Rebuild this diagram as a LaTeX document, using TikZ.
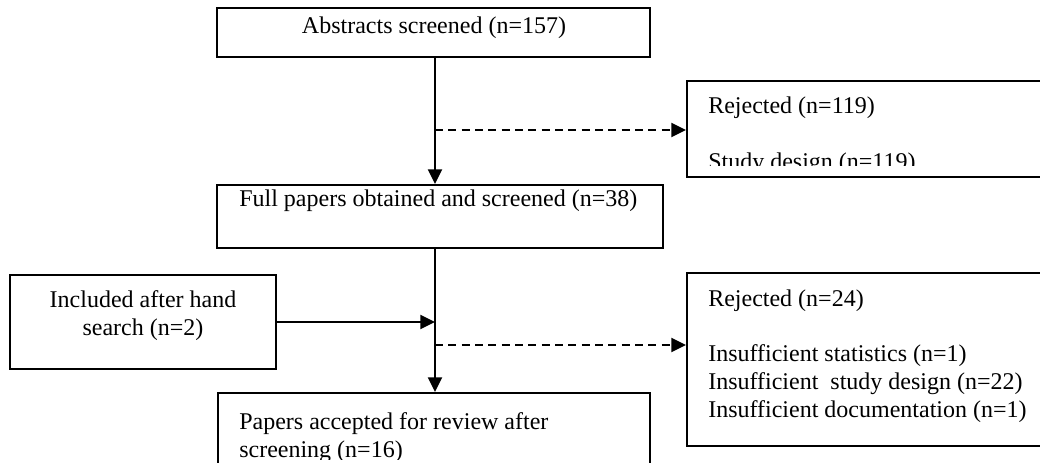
\documentclass[tikz,border=0pt]{standalone}
\usepackage{fontspec}
\setmainfont{Liberation Serif}
\usetikzlibrary{fit, arrows.meta}

\begin{document}
\begin{tikzpicture}
      [
        x=0.75pt, y=-0.75pt,
        box/.style={draw, line width=1.5pt, inner sep=0pt},
        txt/.style={font=\fontsize{18}{21}\selectfont, inner sep=0pt, anchor=base west},
        flow/.style={line width=1.5pt, -{Triangle[length=11pt, width=10.5pt]}},
        reject/.style={flow, dash pattern=on 6pt off 4pt}
      ]
      \clip (0,0) rectangle (1040,463);
      % boxes
      \node [box, fit={(217,8) (650,57)}] (abs) {};
      \node [box, fit={(217,185) (663,248)}] (full) {};
      \node [box, fit={(687,81) (1060,177)}] (rej1) {};
      \node [box, fit={(10,275) (276,369)}] (hand) {};
      \node [box, fit={(218,393) (650,490)}] (acc) {};
      \node [box, fit={(687,273) (1060,446)}] (rej2) {};
      % texts
      \node [txt, anchor=base] (tabs) at (434,34) {Abstracts screened (n=157)};
      \node [txt] (tfull) at (239,207) {Full papers obtained and screened (n=38)};
      \node [txt, anchor=base] (thand1) at (143,308) {Included after hand};
      \node [txt, anchor=base] (thand2) at (143,336) {search (n=2)};
      \begin{scope}
        \clip (687,81) rectangle (1040,166);
        \node [txt] (trej1a) at (708,114) {Rejected (n=119)};
        \node [txt] (trej1b) at (708,170) {Study design (n=119)};
      \end{scope}
      \begin{scope}
        \clip (218,393) rectangle (650,460);
        \node [txt] (tacc1) at (239,430) {Papers accepted for review after};
        \node [txt] (tacc2) at (239,458) {screening (n=16)};
      \end{scope}
      \node [txt] (trej2) at (708,307) {Rejected (n=24)};
      \foreach \y/\t in {362/{Insufficient statistics (n=1)},
                         390/{Insufficient\ \ study design (n=22)},
                         418/{Insufficient documentation (n=1)}} {
          \node [txt] at (708,\y) {\t};
      }
      % branch points
      \coordinate (m1) at (435,130);
      \coordinate (m2) at (435,345);
      % arrows
      \draw [flow] (abs.south -| m1) -- (full.north -| m1);
      \draw [reject] (m1) -- (m1 -| rej1.west);
      \draw [flow] (full.south -| m2) -- (acc.north -| m2);
      \draw [flow] (hand.east) -- (hand.east -| m2);
      \draw [reject] (m2) -- (m2 -| rej2.west);
\end{tikzpicture}
\end{document}
